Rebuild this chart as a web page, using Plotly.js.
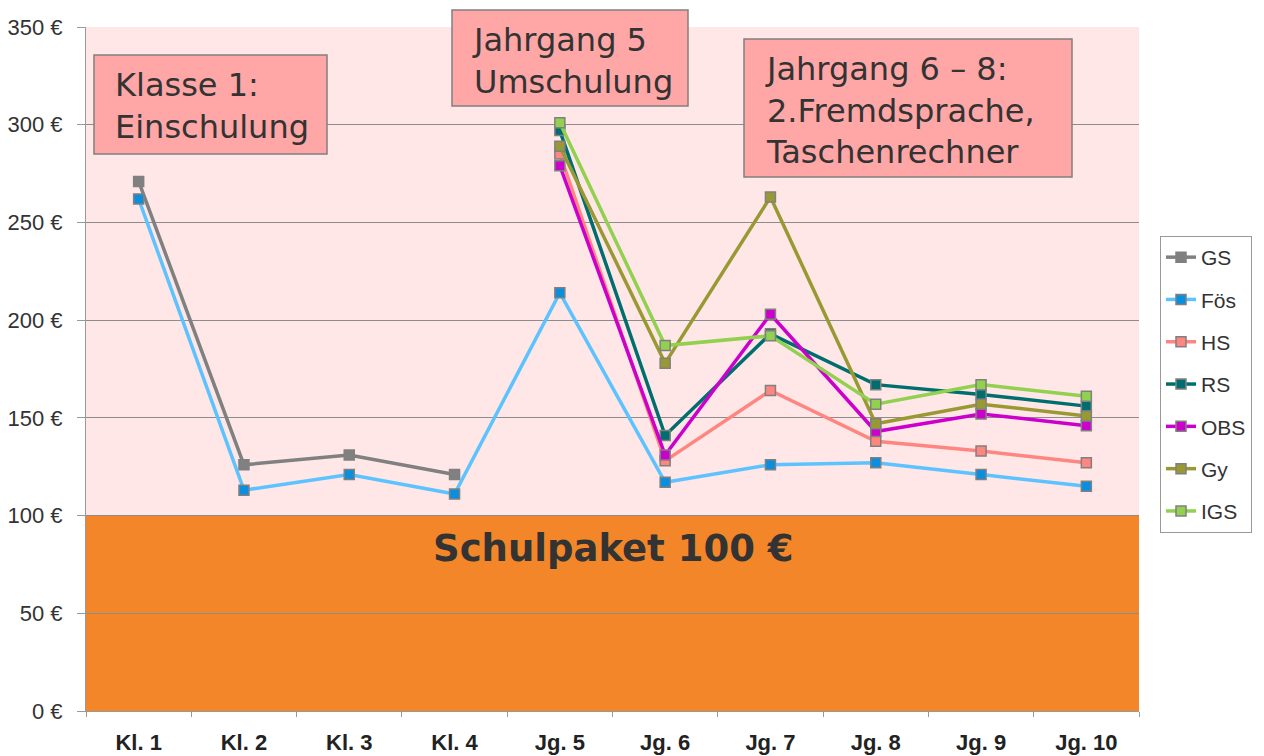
<!DOCTYPE html>
<html>
<head>
<meta charset="utf-8">
<script src="https://cdn.plot.ly/plotly-3.0.1.min.js"></script>
<style>html,body{margin:0;padding:0;background:#fff;}#chart{width:1264px;height:756px;}</style>
</head>
<body>
<div id="chart"></div>
<script>
const categories = ["Kl. 1","Kl. 2","Kl. 3","Kl. 4","Jg. 5","Jg. 6","Jg. 7","Jg. 8","Jg. 9","Jg. 10"];
const seriesNames = ["GS","Fös","HS","RS","OBS","Gy","IGS"];
const GS  = [271, 126, 131, 121, null, null, null, null, null, null];
const Fos = [262, 113, 121, 111, 214, 117, 126, 127, 121, 115];
const HS  = [null, null, null, null, 285, 128, 164, 138, 133, 127];
const RS  = [null, null, null, null, 297, 141, 193, 167, 162, 156];
const OBS = [null, null, null, null, 279, 131, 203, 143, 152, 146];
const Gy  = [null, null, null, null, 289, 178, 263, 147, 157, 151];
const IGS = [null, null, null, null, 301, 187, 192, 157, 167, 161];
const yTicks = [0, 50, 100, 150, 200, 250, 300, 350];
const yTickLabels = ["0 €","50 €","100 €","150 €","200 €","250 €","300 €","350 €"];
const baseValue = 100;

const lineColors   = ["#808080","#5CC3FF","#FF8580","#006E6E","#CC00CC","#999933","#92D050"];
const markerColors = ["#808080","#0A8FE0","#FF8580","#006E6E","#CC00CC","#999933","#92D050"];
const data = [GS, Fos, HS, RS, OBS, Gy, IGS];

const traces = data.map((vals, i) => ({
  type: "scatter", mode: "lines+markers",
  x: categories, y: vals, name: seriesNames[i],
  legendgroup: "g" + i,
  connectgaps: false,
  line: {color: lineColors[i], width: 3.5},
  marker: {symbol: "square", size: 10, color: markerColors[i], line: {color: "#808080", width: 1.5}},
  cliponaxis: false
}));

const L = 86, R = 1139, T = 27, B = 711;
const W = 1264, H = 756;
const pw = R - L, ph = B - T;
const px = v => (v - L) / pw;
const py = v => (B - v) / ph;

function box(x0, y0, x1, y1) {
  return {type: "rect", xref: "paper", yref: "paper", x0: px(x0), x1: px(x1), y0: py(y1), y1: py(y0),
    fillcolor: "#FFA6A6", line: {color: "#808080", width: 1.5}, layer: "above"};
}
function boxText(x, y, text) {
  return {xref: "paper", yref: "paper", x: px(x), y: py(y), xanchor: "left", yanchor: "top",
    text: text, showarrow: false, align: "left",
    font: {family: "DejaVu Sans, Verdana, sans-serif", size: 32, color: "#333333"}};
}

const layout = {
  width: W, height: H,
  margin: {l: L, r: W - R, t: T, b: H - B, pad: 0},
  paper_bgcolor: "#ffffff",
  plot_bgcolor: "#FFE7E7",
  showlegend: true,
  legend: {x: px(1160), y: py(236), xanchor: "left", yanchor: "top",
    bgcolor: "#ffffff", bordercolor: "#999999", borderwidth: 1,
    font: {family: "Liberation Sans, Arial, sans-serif", size: 21, color: "#333333"},
    tracegroupgap: 12, itemwidth: 30},
  xaxis: {
    type: "category", range: [-0.5, 9.5], fixedrange: true,
    showgrid: false, zeroline: false,
    showline: true, linecolor: "#999999", linewidth: 1,
    ticks: "outside", tickson: "boundaries", ticklen: 5, tickcolor: "#999999",
    ticklabelstandoff: 12,
    tickfont: {family: "Liberation Sans, Arial, sans-serif", size: 22, color: "#222222", weight: "bold"}
  },
  yaxis: {
    range: [0, 350], tickvals: yTicks, ticktext: yTickLabels,
    showgrid: true, gridcolor: "#8C8C8C", gridwidth: 1, zeroline: false,
    showline: true, linecolor: "#999999", linewidth: 1,
    ticks: "outside", ticklen: 8, tickcolor: "#999999", ticklabelstandoff: 10,
    tickfont: {family: "Liberation Sans, Arial, sans-serif", size: 22, color: "#333333"}
  },
  shapes: [
    {type: "rect", xref: "paper", yref: "y", x0: 0, x1: 1, y0: 0, y1: baseValue,
      fillcolor: "#F4862A", line: {width: 0}, layer: "below"},
    box(94, 55, 327, 154),
    box(452, 10, 688, 106),
    box(744, 39, 1072, 177)
  ],
  annotations: [
    {xref: "paper", yref: "y", x: px(613), y: baseValue - 17, xanchor: "center", yanchor: "middle",
      text: "<b>Schulpaket 100 €</b>", showarrow: false,
      font: {family: "DejaVu Sans, Verdana, sans-serif", size: 37, color: "#333333"}},
    boxText(113, 64, "Klasse 1:<br>Einschulung"),
    boxText(470, 19, "Jahrgang 5<br>Umschulung"),
    boxText(763, 48, "Jahrgang 6 – 8:<br>2.Fremdsprache,<br>Taschenrechner")
  ]
};

Plotly.newPlot("chart", traces, layout, {displayModeBar: false, staticPlot: true});
</script>
</body>
</html>
